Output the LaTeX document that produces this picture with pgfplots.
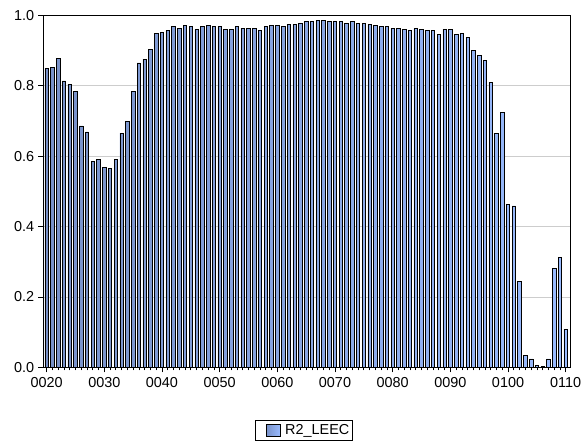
\documentclass[border=0pt]{standalone}
\usepackage{pgfplots}
\pgfplotsset{compat=1.18}
\usepackage{fontspec}
\setmainfont{Liberation Sans}
\usetikzlibrary{calc}
\definecolor{barblue}{RGB}{153,187,255}
\definecolor{bardark}{RGB}{120,145,200}
\definecolor{gridgray}{RGB}{205,205,205}
\pgfplotstableread{
x y
0 0.850
1 0.853
2 0.879
3 0.814
4 0.805
5 0.785
6 0.686
7 0.669
8 0.585
9 0.592
10 0.569
11 0.566
12 0.592
13 0.666
14 0.700
15 0.785
16 0.865
17 0.876
18 0.904
19 0.949
20 0.952
21 0.958
22 0.968
23 0.964
24 0.972
25 0.968
26 0.961
27 0.968
28 0.972
29 0.968
30 0.968
31 0.961
32 0.961
33 0.968
34 0.964
35 0.964
36 0.964
37 0.957
38 0.968
39 0.972
40 0.972
41 0.968
42 0.975
43 0.975
44 0.978
45 0.983
46 0.983
47 0.986
48 0.986
49 0.983
50 0.983
51 0.983
52 0.978
53 0.983
54 0.978
55 0.978
56 0.975
57 0.972
58 0.969
59 0.969
60 0.963
61 0.963
62 0.960
63 0.957
64 0.963
65 0.960
66 0.957
67 0.957
68 0.947
69 0.961
70 0.961
71 0.947
72 0.949
73 0.938
74 0.901
75 0.887
76 0.873
77 0.810
78 0.666
79 0.725
80 0.464
81 0.459
82 0.245
83 0.035
84 0.024
85 0.006
86 0.003
87 0.024
88 0.282
89 0.313
90 0.109
}\datatable
\begin{document}
\fontsize{14.5}{17}\selectfont
\begin{tikzpicture}
\begin{axis}[
  name=ax,
  scale only axis,
  width=528.4bp, height=352.5bp,
  xmin=-0.59, xmax=90.87,
  ymin=0, ymax=1,
  axis line style={black, line width=0.9bp},
  xtick={0,10,...,90},
  xticklabels={0020,0030,0040,0050,0060,0070,0080,0090,0100,0110},
  minor xtick={0,1,...,90},
  ytick={0,0.2,0.4,0.6,0.8,1.0},
  yticklabel style={xshift=1bp, /pgf/number format/.cd, fixed, fixed zerofill, precision=1},
  /pgf/number format/assume math mode=true,
  tick align=outside,
  tick pos=left,
  major tick length=5bp,
  minor tick length=3bp,
  every tick/.style={black, line width=0.7bp},
  ymajorgrids,
  grid style={gridgray, line width=0.8bp},
  tick label style={font=\fontsize{14.5}{17}\selectfont},
  ybar,
  bar width=3.5bp,
  legend style={at={(axis description cs:0.494,-0.179)}, anchor=center,
    draw=black, line width=0.7bp, font=\fontsize{14.5}{17}\selectfont,
    inner xsep=1bp, inner ysep=1.5bp},
  legend image code/.code={\path[draw=none, fill=none] (-10bp,0bp) -- (17bp,0bp);
    \draw[fill=barblue, draw=black, line width=0.7bp] (0bp,-6bp) rectangle (14bp,6bp);},
]
\addplot[left color=bardark, right color=barblue, draw=black, line width=0.65bp] table[x=x, y=y] {\datatable};
\addlegendentry{R2\_LEEC}
\end{axis}
\path ($(ax.south west)+(-43.3bp,-79bp)$) rectangle ($(ax.north east)+(14.3bp,15.5bp)$);
\end{tikzpicture}
\end{document}
